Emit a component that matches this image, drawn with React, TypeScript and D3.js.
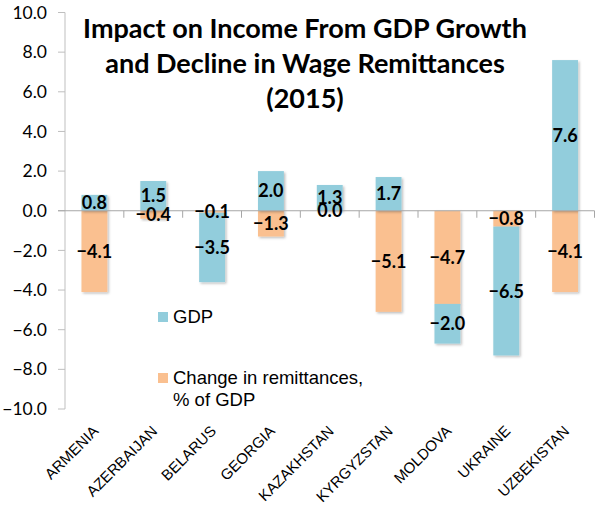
import React, { useEffect, useRef } from 'react';
import * as d3 from 'd3';

const countries = ['ARMENIA', 'AZERBAIJAN', 'BELARUS', 'GEORGIA', 'KAZAKHSTAN', 'KYRGYZSTAN', 'MOLDOVA', 'UKRAINE', 'UZBEKISTAN'];
const gdp = [0.8, 1.5, -3.5, 2.0, 1.3, 1.7, -2.0, -6.5, 7.6];
const remittances = [-4.1, -0.4, -0.1, -1.3, 0.0, -5.1, -4.7, -0.8, -4.1];
const yTicks = [10, 8, 6, 4, 2, 0, -2, -4, -6, -8, -10];
const titleLines = ['Impact on Income From GDP Growth', 'and Decline in Wage Remittances', '(2015)'];

const W = 597, H = 508;
const BLUE = '#92CDDC', ORANGE = '#FAC090';

export default function App() {
  const ref = useRef<SVGSVGElement>(null);

  useEffect(() => {
    const svg = d3.select(ref.current);
    svg.selectAll('*').remove();

    const left = 65, right = 594.5;
    const x = d3.scaleBand().domain(countries).range([left, right]).paddingInner(0.56).paddingOuter(0.28);
    const y = d3.scaleLinear().domain([-10, 10]).range([409, 12.5]);

    const defs = svg.append('defs');
    const f = defs.append('filter').attr('id', 'sh').attr('x', '-20%').attr('y', '-20%').attr('width', '150%').attr('height', '150%');
    f.append('feDropShadow').attr('dx', 1.5).attr('dy', 1.5).attr('stdDeviation', 1).attr('flood-color', '#000').attr('flood-opacity', 0.25);

    // y axis
    const ya = svg.append('g');
    ya.append('line').attr('x1', left).attr('x2', left).attr('y1', y(10)).attr('y2', y(-10)).attr('stroke', '#bfbfbf');
    yTicks.forEach(t => {
      ya.append('line').attr('x1', left - 7).attr('x2', left).attr('y1', y(t)).attr('y2', y(t)).attr('stroke', '#bfbfbf');
      ya.append('text').attr('x', 47).attr('y', y(t)).attr('dy', '0.35em').attr('text-anchor', 'end')
        .attr('font-family', 'Lato, sans-serif').attr('font-size', 17.5).attr('fill', '#000').text(d3.format('.1f')(t));
    });

    // stacked bars: remittances stack first from zero, GDP on top of it
    const rows = countries.map((c, i) => ({ c, remit: remittances[i], gdp: gdp[i] }));
    const series = d3.stack<any>().keys(['remit', 'gdp']).offset(d3.stackOffsetDiverging)(rows);
    const colors: Record<string, string> = { remit: ORANGE, gdp: BLUE };

    const bars = svg.append('g');
    series.forEach(s => {
      bars.selectAll(null).data(s).join('rect')
        .attr('x', d => x(d.data.c)!)
        .attr('width', x.bandwidth())
        .attr('y', d => y(Math.max(d[0], d[1])))
        .attr('height', d => Math.abs(y(d[0]) - y(d[1])))
        .attr('fill', colors[s.key])
        .attr('filter', 'url(#sh)');
    });

    // zero axis with category ticks
    const xa = svg.append('g');
    xa.append('line').attr('x1', left - 7).attr('x2', right).attr('y1', y(0)).attr('y2', y(0)).attr('stroke', '#a6a6a6');
    d3.range(1, countries.length + 1).forEach(i => {
      const xx = left + i * (right - left) / countries.length;
      xa.append('line').attr('x1', xx).attr('x2', xx).attr('y1', y(0)).attr('y2', y(0) + 7).attr('stroke', '#a6a6a6');
    });

    // data labels
    const labels = svg.append('g');
    series.forEach(s => {
      labels.selectAll(null).data(s).join('text')
        .attr('x', d => x(d.data.c)! + x.bandwidth() / 2)
        .attr('y', d => y((d[0] + d[1]) / 2))
        .attr('dy', '0.36em')
        .attr('text-anchor', 'middle')
        .attr('font-family', 'Lato, sans-serif').attr('font-weight', 'bold').attr('font-size', 18)
        .text(d => d3.format('.1f')(d.data[s.key]));
    });

    // x labels
    svg.append('g').selectAll(null).data(countries).join('text')
      .attr('transform', d => `translate(${x(d)! + x.bandwidth() / 2 + 5},${432}) rotate(-45)`)
      .attr('text-anchor', 'end')
      .attr('font-family', '"Liberation Sans", Arial, sans-serif').attr('font-size', 15)
      .text(d => d);

    // title
    svg.append('g').selectAll(null).data(titleLines).join('text')
      .attr('x', 305).attr('y', (d, i) => 38 + i * 35)
      .attr('text-anchor', 'middle')
      .attr('font-family', 'Lato, sans-serif').attr('font-weight', 'bold').attr('font-size', 27)
      .text(d => d);

    // legend
    const lg = svg.append('g').attr('font-family', '"Liberation Sans", Arial, sans-serif').attr('font-size', 18.5);
    lg.append('rect').attr('x', 158).attr('y', 312).attr('width', 10).attr('height', 10).attr('fill', BLUE);
    lg.append('text').attr('x', 173).attr('y', 323).text('GDP');
    lg.append('rect').attr('x', 158).attr('y', 373).attr('width', 10).attr('height', 10).attr('fill', ORANGE);
    lg.append('text').attr('x', 173).attr('y', 384).text('Change in remittances,');
    lg.append('text').attr('x', 173).attr('y', 406).text('% of GDP');
  }, []);

  return <svg ref={ref} width={W} height={H} style={{ position: 'absolute', left: 0, top: 0, background: '#fff' }} />;
}
